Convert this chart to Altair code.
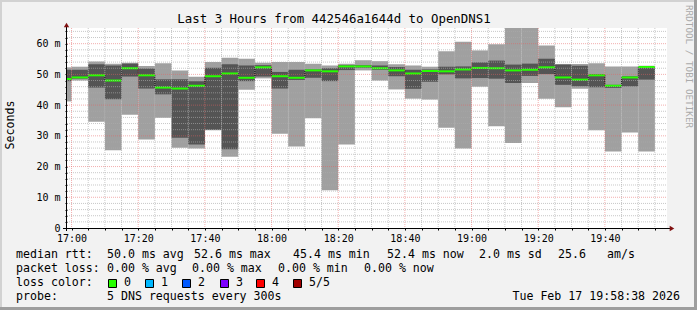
import altair as alt
import pandas as pd

# ---------------- data ----------------
# end of each 5-minute step, minutes after 17:00
step_end_min = [0, 5, 10, 15, 20, 25, 30, 35, 40, 45, 50, 55,
                60, 65, 70, 75, 80, 85, 90, 95, 100, 105, 110, 115,
                120, 125, 130, 135, 140, 145, 150, 155, 160, 165, 170, 175]
ping_max = [52.3, 52.5, 54.2, 53.5, 53.8, 52.7, 53.6, 51.3, 49.2, 54.0, 55.4, 55.1,
            53.8, 54.0, 54.0, 53.5, 52.9, 53.5, 54.6, 54.3, 53.3, 52.9, 52.5, 57.5,
            60.6, 57.8, 59.8, 67.0, 67.0, 59.4, 53.4, 53.4, 53.6, 52.6, 52.6, 52.8]
ping_q3 = [51.5, 51.5, 53.3, 52.9, 53.5, 51.9, 48.4, 48.4, 47.8, 52.2, 53.3, 52.9,
           53.0, 50.8, 51.5, 51.6, 52.0, 53.0, 53.0, 52.9, 52.4, 51.5, 51.6, 52.5,
           52.6, 53.9, 54.5, 53.2, 53.5, 55.1, 53.2, 52.8, 50.1, 46.6, 49.4, 52.6]
median = [48.5, 49.0, 49.7, 48.0, 52.0, 49.7, 45.7, 45.4, 46.3, 49.4, 50.3, 48.9,
          52.3, 49.4, 48.9, 51.3, 51.0, 52.6, 52.6, 52.0, 51.3, 50.3, 51.1, 51.0,
          51.6, 52.1, 52.0, 51.3, 51.5, 52.3, 49.0, 48.3, 49.7, 46.3, 49.0, 52.4]
ping_q1 = [47.8, 48.6, 45.7, 41.9, 49.3, 45.4, 43.5, 29.4, 27.2, 32.0, 25.6, 47.8,
           49.3, 45.4, 48.2, 48.9, 47.8, 51.4, 52.2, 51.5, 49.4, 45.3, 47.6, 50.0,
           48.7, 48.8, 48.6, 47.2, 49.5, 50.1, 46.6, 46.1, 45.8, 45.6, 46.1, 48.3]
ping_min = [41.2, 48.0, 34.6, 25.3, 36.9, 28.8, 35.9, 26.1, 25.9, 31.8, 23.2, 45.0,
            48.7, 30.7, 26.5, 35.7, 12.3, 27.2, 51.3, 48.0, 45.1, 42.1, 41.8, 32.6,
            25.9, 46.0, 33.1, 27.7, 47.2, 42.1, 39.3, 45.3, 31.8, 24.9, 31.1, 24.9]

x_tick_minutes = [0, 20, 40, 60, 80, 100, 120, 140, 160]
x_tick_labels = ["17:00", "17:20", "17:40", "18:00", "18:20", "18:40", "19:00", "19:20", "19:40"]
y_tick_values = [0, 10, 20, 30, 40, 50, 60]
y_tick_labels = ["0\u00a0\u00a0", "10 m", "20 m", "30 m", "40 m", "50 m", "60 m"]

loss_labels = ["0", "1", "2", "3", "4", "5/5"]
loss_colors = ["#26ff00", "#00b8ff", "#0059ff", "#7e00ff", "#ff0000", "#a10000"]

title_text = "Last 3 Hours from 442546a1644d to OpenDNS1"
row1 = [("median rtt:", 16), ("50.0 ms avg", 107), ("52.6 ms max", 194), ("45.4 ms min", 293),
        ("52.4 ms now", 387), ("2.0 ms sd", 479), ("25.6", 558), ("am/s", 607)]
row2 = [("packet loss:", 16), ("0.00 % avg", 107), ("0.00 % max", 192), ("0.00 % min", 278),
        ("0.00 % now", 364)]
probe_text = "5 DNS requests every 300s"
stamp_text = "Tue Feb 17 19:58:38 2026"

# ---------------- layout ----------------
LEFT, TOP, W, H = 67, 28, 600, 200
MONO = "DejaVu Sans Mono"
X_DOMAIN = [-82 / 60.0, 180 - 82 / 60.0]
Y_DOMAIN = [0, 65.1]
xs = alt.Scale(domain=X_DOMAIN, nice=False, zero=False)
ys = alt.Scale(domain=Y_DOMAIN, nice=False, zero=False)


def ax(x):
    return x - LEFT


def ay(y):
    return y - TOP


def nested_expr(values, labels):
    expr = "''"
    for v, lab in reversed(list(zip(values, labels))):
        expr = f"datum.value == {v} ? '{lab}' : ({expr})"
    return expr


x_axis = alt.Axis(values=list(range(0, 180, 5)), labelExpr=nested_expr(x_tick_minutes, x_tick_labels),
                  tickSize=2, tickColor="#000", domain=False, grid=False, title=None,
                  labelFont=MONO, labelFontSize=10, labelColor="#000", labelPadding=3,
                  labelOverlap=False, labelFlush=False, labelBound=False)
y_axis = alt.Axis(values=list(range(0, 66, 2)), labelExpr=nested_expr(y_tick_values, y_tick_labels),
                  tickSize=2, tickColor="#000", domain=False, grid=False, title=None,
                  labelFont=MONO, labelFontSize=10, labelColor="#000", labelPadding=5,
                  labelOverlap=False, labelFlush=False, labelBound=False, labelBaseline="middle")

df = pd.DataFrame({
    "t0": [e - 5 for e in step_end_min],
    "t1": step_end_min,
    "mx": ping_max, "q3": ping_q3, "med": median, "q1": ping_q1, "mn": ping_min,
})
conn = pd.DataFrame({
    "t": step_end_min[:-1],
    "a": median[:-1],
    "b": median[1:],
})
one = pd.DataFrame({"k": [0]})

base = alt.Chart(df)
light = base.mark_rect(color="#a0a0a0", clip=True).encode(
    x=alt.X("t0:Q", scale=xs, axis=x_axis), x2="t1:Q",
    y=alt.Y("mn:Q", scale=ys, axis=y_axis), y2="mx:Q")
dark = base.mark_rect(color="#545454", clip=True).encode(
    x=alt.X("t0:Q", scale=xs, axis=x_axis), x2="t1:Q",
    y=alt.Y("q1:Q", scale=ys, axis=y_axis), y2="q3:Q")
steps = alt.Chart(conn).mark_rule(color="#000", strokeDash=[1, 1], clip=True).encode(
    x=alt.X("t:Q", scale=xs, axis=x_axis),
    y=alt.Y("a:Q", scale=ys, axis=y_axis), y2="b:Q")
green = base.mark_rule(color="#26ff00", strokeWidth=2, clip=True).encode(
    x=alt.X("t0:Q", scale=xs, axis=x_axis), x2="t1:Q",
    y=alt.Y("med:Q", scale=ys, axis=y_axis))

vmin = pd.DataFrame({"v": [v for v in range(5, 180, 5) if v % 20]})
vmaj = pd.DataFrame({"v": x_tick_minutes})
hmin = pd.DataFrame({"v": [v for v in range(2, 66, 2) if v % 10]})
hmaj = pd.DataFrame({"v": y_tick_values[1:]})

grid_v_min = alt.Chart(vmin).mark_rule(color="#aaaaaa", opacity=0.65, strokeDash=[1, 1]).encode(
    x=alt.X("v:Q", scale=xs, axis=x_axis), y=alt.value(0), y2=alt.value(H))
grid_v_maj = alt.Chart(vmaj).mark_rule(color="#e86060", opacity=0.5, strokeDash=[1, 1]).encode(
    x=alt.X("v:Q", scale=xs, axis=x_axis), y=alt.value(0), y2=alt.value(H))
grid_h_min = alt.Chart(hmin).mark_rule(color="#aaaaaa", opacity=0.65, strokeDash=[1, 1]).encode(
    y=alt.Y("v:Q", scale=ys, axis=y_axis), x=alt.value(0), x2=alt.value(W))
grid_h_maj = alt.Chart(hmaj).mark_rule(color="#e86060", opacity=0.5, strokeDash=[1, 1]).encode(
    y=alt.Y("v:Q", scale=ys, axis=y_axis), x=alt.value(0), x2=alt.value(W))

deco = []
# axis lines + arrows
deco.append(alt.Chart(one).mark_rule(color="#000").encode(
    x=alt.value(-0.5), y=alt.value(ay(24)), y2=alt.value(ay(231))))
deco.append(alt.Chart(one).mark_rule(color="#000").encode(
    y=alt.value(H + 0.5), x=alt.value(ax(63)), x2=alt.value(ax(672))))
deco.append(alt.Chart(one).mark_point(shape="triangle-up", filled=True, color="#801010", size=28, opacity=1).encode(
    x=alt.value(-0.5), y=alt.value(ay(25))))
deco.append(alt.Chart(one).mark_point(shape="triangle-right", filled=True, color="#801010", size=28, opacity=1).encode(
    x=alt.value(ax(672)), y=alt.value(H + 0.5)))

# frame
deco.append(alt.Chart(one).mark_rect(color="#9e9e9e").encode(
    x=alt.value(ax(694)), x2=alt.value(ax(697)), y=alt.value(ay(0)), y2=alt.value(ay(310))))
deco.append(alt.Chart(one).mark_rect(color="#9e9e9e").encode(
    x=alt.value(ax(0)), x2=alt.value(ax(697)), y=alt.value(ay(307)), y2=alt.value(ay(310))))
deco.append(alt.Chart(one).mark_rect(color="#d2d2d2").encode(
    x=alt.value(ax(0)), x2=alt.value(ax(694)), y=alt.value(ay(0)), y2=alt.value(ay(2))))
deco.append(alt.Chart(one).mark_rect(color="#d2d2d2").encode(
    x=alt.value(ax(0)), x2=alt.value(ax(2)), y=alt.value(ay(0)), y2=alt.value(ay(307))))


def txt(s, x, y, size=11.6, align="left", color="#000", angle=0):
    return alt.Chart(one).mark_text(align=align, baseline="middle", font=MONO, fontSize=size,
                                    color=color, angle=angle).encode(
        x=alt.value(ax(x)), y=alt.value(ay(y)), text=alt.value(s))


texts = [txt(title_text, 334, 19, size=12.4, align="center"),
         txt("Seconds", 10.5, 125, size=11.6, align="center", angle=270),
         txt("RRDTOOL / TOBI OETIKER", 688.5, 5, size=9.3, align="left", color="#aaaaaa", angle=90)]
for s, x in row1:
    texts.append(txt(s, x, 254.5))
for s, x in row2:
    texts.append(txt(s, x, 268.5))
texts.append(txt("loss color:", 16, 282.5))
box_x = [108, 145, 182, 220, 256, 293]
for lab, col, bx in zip(loss_labels, loss_colors, box_x):
    texts.append(alt.Chart(one).mark_rect(fill=col, stroke="#000", strokeWidth=1).encode(
        x=alt.value(ax(bx) + 0.5), x2=alt.value(ax(bx + 8) + 0.5),
        y=alt.value(ay(279) + 0.5), y2=alt.value(ay(287) + 0.5)))
    texts.append(txt(lab, bx + 16, 282.5))
texts.append(txt("probe:", 16, 296.5))
texts.append(txt(probe_text, 107, 296.5))
texts.append(txt(stamp_text, 680, 296.5, align="right"))

chart = alt.layer(light, dark, steps, green, grid_v_min, grid_h_min, grid_v_maj, grid_h_maj,
                  *deco, *texts).properties(
    width=W, height=H,
    padding={"left": LEFT, "top": TOP, "right": 697 - LEFT - W, "bottom": 310 - TOP - H},
    autosize=alt.AutoSizeParams(type="none"),
    background="#f2f2f2",
).configure_view(stroke=None, fill="white")

chart.save("out.html", embed_options={"renderer": "svg", "actions": False})
